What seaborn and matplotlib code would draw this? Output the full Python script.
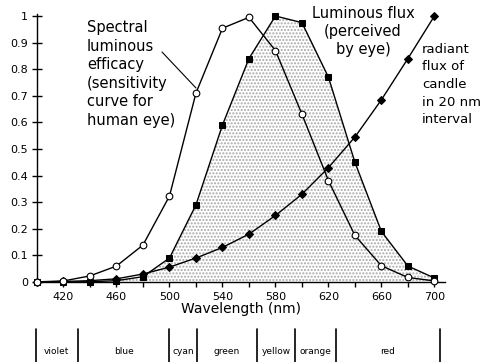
import numpy as np
import pandas as pd
import matplotlib
matplotlib.use('Agg')
import matplotlib.pyplot as plt
import matplotlib.transforms as mtransforms
import seaborn as sns

# values
wavelength = [400, 420, 440, 460, 480, 500, 520, 540, 560, 580, 600, 620, 640, 660, 680, 700]
efficacy = [0.0004, 0.004, 0.023, 0.06, 0.139, 0.323, 0.71, 0.954, 0.995, 0.87, 0.631, 0.381, 0.175, 0.061, 0.017, 0.004]
lum_flux = [0.0, 0.0, 0.001, 0.005, 0.02, 0.09, 0.29, 0.59, 0.84, 1.0, 0.975, 0.77, 0.45, 0.19, 0.06, 0.015]
radiant = [0.0, 0.002, 0.005, 0.012, 0.03, 0.056, 0.09, 0.13, 0.18, 0.25, 0.33, 0.43, 0.545, 0.685, 0.84, 1.0]

band_edges = [399, 431, 500, 521, 566, 595, 626, 704]
band_names = ['violet', 'blue', 'cyan', 'green', 'yellow', 'orange', 'red']

df = pd.DataFrame({'wl': wavelength, 'eff': efficacy, 'lum': lum_flux, 'rad': radiant})

sns.set_theme(style='white')
plt.rcParams['font.family'] = ['DejaVu Sans']
plt.rcParams['text.color'] = 'black'
plt.rcParams['axes.labelcolor'] = 'black'
plt.rcParams['xtick.color'] = 'black'
plt.rcParams['ytick.color'] = 'black'
plt.rcParams['hatch.linewidth'] = 1.0
plt.rcParams['hatch.color'] = '#a8a8a8'

fig = plt.figure(figsize=(4.86, 3.62), dpi=100)
ax = fig.add_axes([37 / 486, 1 - 282 / 362, 408 / 486, 268 / 362])

# stippled area under luminous flux
ax.fill_between(df['wl'], 0, df['lum'], facecolor='white', hatch='.....', edgecolor='#a8a8a8', linewidth=0)

sns.lineplot(data=df, x='wl', y='lum', ax=ax, color='black', lw=1, marker='s', markersize=5,
             markerfacecolor='black', markeredgecolor='black', clip_on=False, zorder=3)
sns.lineplot(data=df, x='wl', y='rad', ax=ax, color='black', lw=1, marker='D', markersize=4,
             markerfacecolor='black', markeredgecolor='black', clip_on=False, zorder=4)
sns.lineplot(data=df, x='wl', y='eff', ax=ax, color='black', lw=1, marker='o', markersize=4.8,
             markerfacecolor='white', markeredgecolor='black', markeredgewidth=0.8, clip_on=False, zorder=5)

ax.set_xlim(400, 708)
ax.set_ylim(0, 1.0075)
ax.set_xticks(np.arange(420, 701, 40))
ax.set_xticks(np.arange(440, 681, 40), minor=True)
ax.set_yticks(np.arange(0, 1.01, 0.1))
ax.set_yticklabels(['0', '0.1', '0.2', '0.3', '0.4', '0.5', '0.6', '0.7', '0.8', '0.9', '1'])
ax.tick_params(axis='both', which='both', direction='inout', length=7, width=1, color='black',
               labelsize=8, bottom=True, left=True)
ax.tick_params(axis='x', pad=4)
ax.tick_params(axis='y', pad=3)
for s in ['top', 'right']:
    ax.spines[s].set_visible(False)
for s in ['left', 'bottom']:
    ax.spines[s].set_color('black')
    ax.spines[s].set_linewidth(1)
ax.set_xlabel('Wavelength (nm)', fontsize=10, labelpad=0)
ax.set_ylabel('')

# annotations
ax.text(87 / 486, 1 - 20 / 362, 'Spectral\nluminous\nefficacy\n(sensitivity\ncurve for\nhuman eye)',
        transform=fig.transFigure, fontsize=10.5, va='top', ha='left', linespacing=1.3)
ax.plot([162 / 486, 196 / 486], [1 - 52 / 362, 1 - 88 / 362], transform=fig.transFigure,
        color='black', lw=0.8, clip_on=False)
ax.text(363 / 486, 1 - 6 / 362, 'Luminous flux\n(perceived\nby eye)', transform=fig.transFigure,
        fontsize=10.5, va='top', ha='center', linespacing=1.25)
ax.text(422 / 486, 1 - 43 / 362, 'radiant\nflux of\ncandle\nin 20 nm\ninterval', transform=fig.transFigure,
        fontsize=9.5, va='top', ha='left', linespacing=1.45)

# colour band under the axis
trans = mtransforms.blended_transform_factory(ax.transData, fig.transFigure)
for e in band_edges:
    ax.plot([e, e], [0, 1 - 329 / 362], transform=trans, color='black', lw=1.2, clip_on=False)
for i, name in enumerate(band_names):
    ax.text((band_edges[i] + band_edges[i + 1]) / 2, 1 - 351 / 362, name, transform=trans,
            fontsize=6.5, ha='center', va='center')

fig.savefig('out.png', dpi=100)
